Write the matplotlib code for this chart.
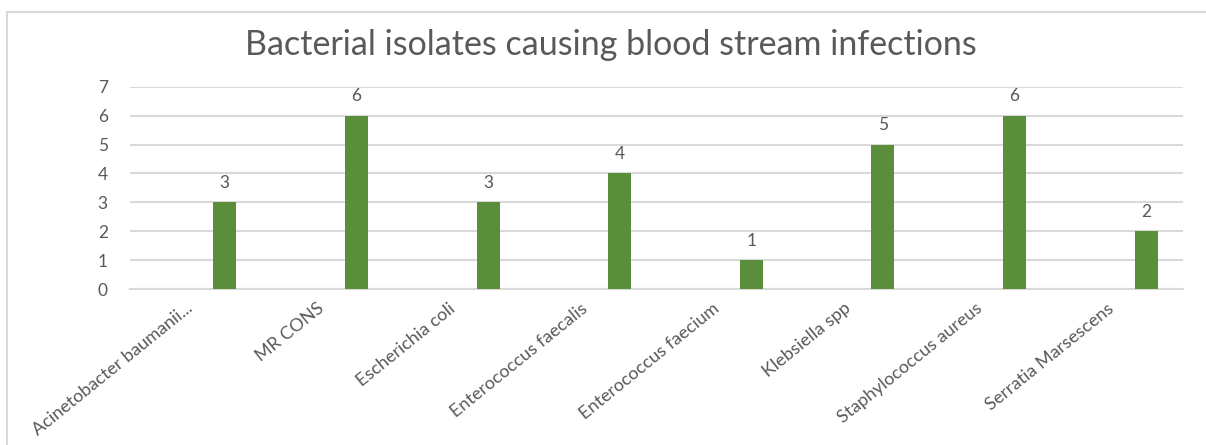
import numpy as np
import matplotlib
matplotlib.use('Agg')
import matplotlib.pyplot as plt
from matplotlib.lines import Line2D

plt.rcParams['font.family'] = ['Lato', 'DejaVu Sans']

# data
organisms = ['Acinetobacter baumanii...', 'MR CONS', 'Escherichia coli',
             'Enterococcus faecalis', 'Enterococcus faecium', 'Klebsiella spp',
             'Staphylococcus aureus', 'Serratia Marsescens']
counts = [3, 6, 3, 4, 1, 5, 6, 2]
y_ticks = [0, 1, 2, 3, 4, 5, 6, 7]

text_col = '#595959'
grid_col = '#D9D9D9'
bar_col = '#5B8E3A'

fig = plt.figure(figsize=(12.06, 4.45), dpi=100)
W, H = 1206, 445

# chart frame: only top and left edges are inside the picture
fig.lines.append(Line2D([7 / W, 7 / W], [-0.05, 1 - 12 / H], transform=fig.transFigure,
                        color=grid_col, linewidth=1.5))
fig.lines.append(Line2D([7 / W, 1.05], [1 - 12 / H, 1 - 12 / H], transform=fig.transFigure,
                        color=grid_col, linewidth=1.5))

ax = fig.add_axes([130 / W, (H - 289) / H, (1183 - 130) / W, (289 - 86.7) / H])

x = np.arange(len(organisms)) + 0.5
# excel clustered layout: the visible series sits right of the category centre
bars = ax.bar(x + 0.22, counts, width=0.175, color=bar_col, zorder=3)
for b, v in zip(bars, counts):
    ax.annotate(str(v), (b.get_x() + b.get_width() / 2, v), xytext=(0, 8),
                textcoords='offset points', ha='center', va='bottom',
                fontsize=12.5, color=text_col)

ax.set_xlim(0, 8)
ax.set_ylim(0, 7)
ax.set_yticks(y_ticks)
ax.set_yticklabels([str(t) for t in y_ticks], fontsize=12.5, color=text_col)
# rotated labels end a little left of the category centre
ax.set_xticks(x - 0.08)
ax.set_xticklabels(organisms, rotation=39, ha='right', va='top',
                   rotation_mode='anchor', fontsize=13, color=text_col)
ax.tick_params(axis='both', length=0)
ax.tick_params(axis='y', pad=16)
ax.tick_params(axis='x', pad=8)

ax.grid(axis='y', color=grid_col, linewidth=1.5, zorder=0)
for s in ['top', 'right', 'left']:
    ax.spines[s].set_visible(False)
ax.spines['bottom'].set_color(grid_col)
ax.spines['bottom'].set_linewidth(1.5)

fig.text(611 / W, 1 - 45 / H, 'Bacterial isolates causing blood stream infections',
         ha='center', va='center', fontsize=24.5, color=text_col)

plt.savefig('out.png', dpi=100)
